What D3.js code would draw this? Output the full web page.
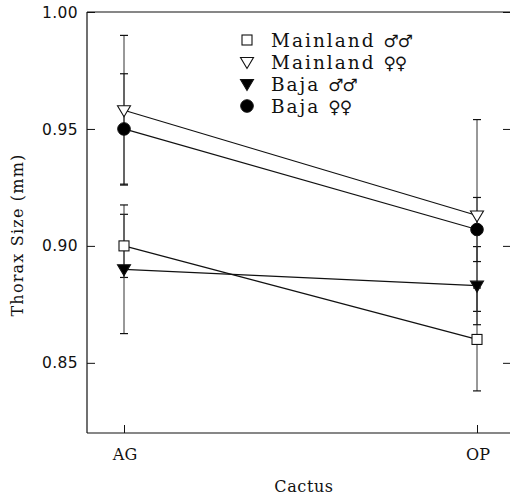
<!DOCTYPE html>
<html>
<head>
<meta charset="utf-8">
<script src="https://cdn.jsdelivr.net/npm/d3@7"></script>
<style>
  html, body { margin: 0; padding: 0; background: #fff; }
  svg { display: block; }
</style>
</head>
<body>
<svg id="chart" width="510" height="496"></svg>
<script>
// ---- Data ----
const categories = ["AG", "OP"];
const seriesLabels = ["Mainland", "Mainland", "Baja", "Baja"];
const seriesSymbols = ["\u2642\u2642", "\u2640\u2640", "\u2642\u2642", "\u2640\u2640"];
const mainlandMales = [0.900, 0.860];
const mainlandMalesErr = [0.0135, 0.022];
const mainlandFemales = [0.958, 0.913];
const mainlandFemalesErr = [0.032, 0.041];
const bajaMales = [0.890, 0.883];
const bajaMalesErr = [0.0275, 0.0167];
const bajaFemales = [0.950, 0.907];
const bajaFemalesErr = [0.0236, 0.0137];
const yTicks = [0.85, 0.90, 0.95, 1.00];
const yTickLabels = ["0.85", "0.90", "0.95", "1.00"];
const xTitle = "Cactus";
const yTitle = "Thorax Size (mm)";

const series = [
  { label: seriesLabels[0], sym: seriesSymbols[0], values: mainlandMales, err: mainlandMalesErr, shape: "square", fill: "#fff" },
  { label: seriesLabels[1], sym: seriesSymbols[1], values: mainlandFemales, err: mainlandFemalesErr, shape: "tri", fill: "#fff" },
  { label: seriesLabels[2], sym: seriesSymbols[2], values: bajaMales, err: bajaMalesErr, shape: "tri", fill: "#000" },
  { label: seriesLabels[3], sym: seriesSymbols[3], values: bajaFemales, err: bajaFemalesErr, shape: "circle", fill: "#000" }
];

// ---- Layout ----
const svg = d3.select("#chart");
const frame = { left: 87, right: 511, top: 12, bottom: 433 };
const x = d3.scalePoint().domain(categories).range([124, 477]);
const y = d3.scaleLinear().domain([0.82, 1.00]).range([frame.bottom, frame.top]);
const ink = "#111";
const serif = "DejaVu Serif, serif";

// Frame lines
const g = svg.append("g");
g.append("line").attr("x1", frame.left).attr("x2", frame.left).attr("y1", frame.top).attr("y2", frame.bottom)
  .attr("stroke", ink).attr("stroke-width", 1.2);
g.append("line").attr("x1", frame.left).attr("x2", frame.right).attr("y1", frame.bottom).attr("y2", frame.bottom)
  .attr("stroke", ink).attr("stroke-width", 1.2);
g.append("line").attr("x1", frame.left).attr("x2", frame.right).attr("y1", frame.top).attr("y2", frame.top)
  .attr("stroke", ink).attr("stroke-width", 1.2);

// Left axis (ticks inward)
const leftAxis = d3.axisRight(y).tickValues(yTicks).tickSize(8).tickFormat("");
const la = svg.append("g").attr("transform", `translate(${frame.left},0)`).call(leftAxis);
la.select(".domain").remove();
la.selectAll(".tick line").attr("stroke", ink);
// Right axis ticks (inward)
const rightAxis = d3.axisLeft(y).tickValues(yTicks).tickSize(8).tickFormat("");
const ra = svg.append("g").attr("transform", `translate(${frame.right},0)`).call(rightAxis);
ra.select(".domain").remove();
ra.selectAll(".tick line").attr("stroke", ink);

// Y tick labels
svg.append("g").selectAll("text").data(yTicks).join("text")
  .attr("x", 78).attr("y", d => y(d)).attr("dy", "0.36em")
  .attr("text-anchor", "end")
  .attr("font-family", "DejaVu Sans, sans-serif").attr("font-size", 15.5)
  .attr("letter-spacing", 0.4)
  .attr("fill", ink)
  .text((d, i) => yTickLabels[i]);

// Bottom axis (ticks inward)
const bottomAxis = d3.axisTop(x).tickSize(8).tickFormat("");
const ba = svg.append("g").attr("transform", `translate(0,${frame.bottom})`).call(bottomAxis);
ba.select(".domain").remove();
ba.selectAll(".tick line").attr("stroke", ink);
svg.append("g").selectAll("text").data(categories).join("text")
  .attr("x", d => x(d) + 1).attr("y", 460)
  .attr("text-anchor", "middle")
  .attr("font-family", serif).attr("font-size", 16)
  .attr("fill", ink)
  .text(d => d);

// Axis titles
svg.append("text").attr("x", 304).attr("y", 492)
  .attr("text-anchor", "middle")
  .attr("font-family", serif).attr("font-size", 16).attr("letter-spacing", 0.6)
  .attr("fill", ink).text(xTitle);
svg.append("text").attr("transform", `translate(23,${235}) rotate(-90)`)
  .attr("text-anchor", "middle")
  .attr("font-family", serif).attr("font-size", 16).attr("letter-spacing", 1.2)
  .attr("fill", ink).text(yTitle);

// Error bars
const capW = 4;
series.forEach(s => {
  const eg = svg.append("g");
  categories.forEach((c, i) => {
    const cx = x(c), hi = y(s.values[i] + s.err[i]), lo = y(s.values[i] - s.err[i]);
    eg.append("line").attr("x1", cx).attr("x2", cx).attr("y1", hi).attr("y2", lo)
      .attr("stroke", "#333").attr("stroke-width", 1);
    [hi, lo].forEach(yy => eg.append("line").attr("x1", cx - capW).attr("x2", cx + capW)
      .attr("y1", yy).attr("y2", yy).attr("stroke", ink).attr("stroke-width", 1.2));
  });
});

// Connecting lines
const line = d3.line().x((d, i) => x(categories[i])).y(d => y(d));
series.forEach(s => {
  svg.append("path").datum(s.values).attr("d", line)
    .attr("fill", "none").attr("stroke", ink).attr("stroke-width", 1.2);
});

// Markers
function drawMarker(sel, shape, fill, cx, cy) {
  if (shape === "square") {
    sel.append("rect").attr("x", cx - 5).attr("y", cy - 5).attr("width", 10).attr("height", 10)
      .attr("fill", fill).attr("stroke", ink).attr("stroke-width", 1.1);
  } else if (shape === "tri") {
    sel.append("path").attr("d", `M${cx - 6.5},${cy - 4.5}L${cx + 6.5},${cy - 4.5}L${cx},${cy + 6.5}Z`)
      .attr("fill", fill).attr("stroke", ink).attr("stroke-width", 1.1);
  } else {
    sel.append("circle").attr("cx", cx).attr("cy", cy).attr("r", 6.3)
      .attr("fill", fill).attr("stroke", ink).attr("stroke-width", 1);
  }
}
series.forEach(s => {
  const mg = svg.append("g");
  categories.forEach((c, i) => drawMarker(mg, s.shape, s.fill, x(c), y(s.values[i])));
});

// Legend
const legendY = [40, 62, 84, 106];
series.forEach((s, i) => {
  const lg = svg.append("g");
  drawMarker(lg, s.shape, s.fill, 247, legendY[i]);
  const t = lg.append("text").attr("x", 271).attr("y", legendY[i]).attr("dy", "0.36em")
    .attr("font-family", serif).attr("font-size", 18.5).attr("letter-spacing", 2)
    .attr("fill", ink);
  t.append("tspan").text(s.label + " ");
  t.append("tspan").attr("font-family", "DejaVu Sans, sans-serif").attr("font-size", 17)
    .attr("letter-spacing", -1).text(s.sym);
});
</script>
</body>
</html>
